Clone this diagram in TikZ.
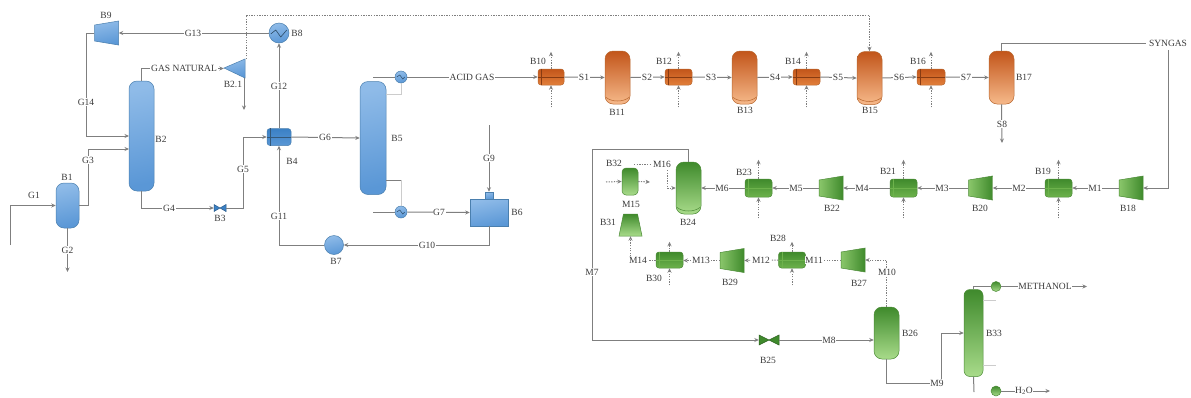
\documentclass[tikz,border=0pt]{standalone}
\usepackage{fontspec}
\setmainfont{Liberation Serif}
\usetikzlibrary{arrows.meta,calc}
\definecolor{linegray}{HTML}{7F7F7F}
\definecolor{txt}{HTML}{3A3A3A}
\definecolor{blue1}{HTML}{8FBBE8}\definecolor{blue2}{HTML}{3A80C4}\definecolor{blue3}{HTML}{5A97D6}\definecolor{blue4}{HTML}{4A7FAE}
\definecolor{or1}{HTML}{C2551A}\definecolor{or2}{HTML}{E27F3A}\definecolor{or3}{HTML}{F6B98A}\definecolor{or4}{HTML}{B8662E}
\definecolor{gr1}{HTML}{3F8A2C}\definecolor{gr2}{HTML}{6DB24C}\definecolor{gr3}{HTML}{A8DB8A}\definecolor{gr4}{HTML}{4B8A36}
\tikzset{
  flow/.style={draw=linegray,line width=1pt,-{Stealth[length=4.5pt,width=4pt]}},
  plain/.style={draw=linegray,line width=1pt},
  faint/.style={draw=linegray!40,line width=0.7pt},
  dots/.style={draw=linegray,line width=1pt,dash pattern=on 1.3pt off 1.3pt,-{Stealth[length=4.5pt,width=4pt]}},
  dotsplain/.style={draw=linegray,line width=1pt,dash pattern=on 1.3pt off 1.3pt},
  lab/.style={font=\fontsize{9.5}{10}\selectfont,text=txt,fill=white,inner sep=0.7pt},
  tag/.style={font=\fontsize{9.5}{10}\selectfont,text=txt,inner sep=0pt},
  blueg/.style={top color=blue1,middle color=blue2,bottom color=blue3,shading angle=12,draw=blue4,line width=0.5pt},
  orangeg/.style={top color=or1,middle color=or2,bottom color=or3,draw=or4,line width=0.5pt},
  greeng/.style={top color=gr1,middle color=gr2,bottom color=gr3,draw=gr4,line width=0.5pt},
  bluehx/.style={top color=blue2,middle color=blue1,bottom color=blue3,draw=blue4,line width=0.5pt},
  orangehx/.style={top color=or1,middle color=or3,bottom color=or2,draw=or4,line width=0.5pt},
  greenhx/.style={top color=gr1,middle color=gr3,bottom color=gr2,draw=gr4,line width=0.5pt},
  greencp/.style={left color=gr3!50!gr2,right color=gr1,draw=gr4,line width=0.5pt},
  vessel/.style={rectangle,rounded corners=8pt,inner sep=0pt},
  hxbox/.style={rectangle,rounded corners=3pt,inner sep=0pt},
  disc/.style={circle,inner sep=0pt},
  ghost/.style={inner sep=0pt,rectangle},
}
% compressor, wide side right: name, cx, cy, colour style
\newcommand{\compr}[4]{%
  \path[#4] (#2-12,#3-8) -- (#2+12,#3-12) -- (#2+12,#3+12) -- (#2-12,#3+8) -- cycle;
  \node[ghost,minimum width=24pt,minimum height=20pt] (#1) at (#2,#3) {};}
% heat exchanger: name, cx, cy, w, h, colour style, line colour
\newcommand{\hxer}[7]{%
  \node[hxbox,#6,minimum width=#4pt,minimum height=#5pt] (#1) at (#2,#3) {};
  \draw[#7,line width=0.6pt] (#1.west) -- (#1.east);
  \draw[#7,line width=0.6pt] ($(#1.north west)+(4,0)$) -- ($(#1.south west)+(4,0)$);}
% valve: name, cx, cy, half w, half h, fill
\newcommand{\valv}[6]{%
  \path[fill=#6,draw=#6!70!black,line width=0.5pt] (#2-#4,#3-#5) -- (#2+#4,#3+#5) -- (#2+#4,#3-#5) -- (#2-#4,#3+#5) -- cycle;
  \node[ghost,minimum width=#4*2pt,minimum height=#5*2pt] (#1) at (#2,#3) {};}
% lower head seam of a vessel: name, colour
\newcommand{\seam}[2]{%
  \draw[#2,line width=0.5pt] ($(#1.south west)+(1,-7)$) .. controls ($(#1.south west)+(7,-2)$) and ($(#1.south east)+(-7,-2)$) .. ($(#1.south east)+(-1,-7)$);}
\begin{document}
\begin{tikzpicture}[x=1pt,y=-1pt]
\useasboundingbox (0,0) rectangle (1191,397);
% --- blue section equipment
\node[vessel,blueg,minimum width=23pt,minimum height=45pt] (b1) at (67.5,205.5) {};
\node[vessel,blueg,minimum width=25pt,minimum height=110pt] (b2) at (141.5,136) {};
\valv{b3}{220}{208}{6}{3.5}{blue2}
\hxer{b4}{279}{137}{24}{17}{bluehx}{blue4!70!black}
\node[vessel,blueg,minimum width=26pt,minimum height=113pt] (b5) at (373,138) {};
\node[disc,blueg,minimum size=12pt] (c5a) at (401,77) {};
\node[disc,blueg,minimum size=12pt] (c5b) at (401,212) {};
\node[ghost,blueg,minimum width=38pt,minimum height=27pt] (b6) at (489,212.5) {};
\node[ghost,blueg,minimum width=8pt,minimum height=7pt] (b6n) at (489,195.5) {};
\node[disc,blueg,minimum size=19pt] (b7) at (334,245) {};
\node[disc,blueg,minimum size=20pt] (b8) at (279,33) {};
\draw[blue4!60!black,line width=0.6pt] ($(b8.west)+(2,1)$) -- ++(5,-4) -- ++(5,7) -- ++(6,-7);
\draw[blue4!60!black,line width=0.5pt] ($(c5a.west)+(2,0)$) -- ++(3,-2) -- ++(3,4) -- ++(2,-2);
\draw[blue4!60!black,line width=0.5pt] ($(c5b.west)+(2,0)$) -- ++(3,-2) -- ++(3,4) -- ++(2,-2);
\compr{b9}{106.5}{33}{blueg}
\path[blueg] (224,68) -- (245,59) -- (245,78) -- cycle;
\node[ghost,minimum width=21pt,minimum height=19pt] (b21x) at (234.5,68.5) {};
% --- orange section equipment
\hxer{b10}{551}{77}{26}{16}{orangehx}{or1!70!black}
\node[vessel,orangeg,minimum width=25pt,minimum height=53pt] (b11) at (617.5,77.5) {};
\seam{b11}{or4}
\hxer{b12}{678.5}{77}{27}{16}{orangehx}{or1!70!black}
\node[vessel,orangeg,minimum width=25pt,minimum height=53pt] (b13) at (744.5,77.5) {};
\seam{b13}{or4}
\hxer{b14}{806.5}{77}{27}{16}{orangehx}{or1!70!black}
\node[vessel,orangeg,minimum width=25pt,minimum height=53pt] (b15) at (869.5,78) {};
\seam{b15}{or4}
\hxer{b16}{931}{77}{28}{16}{orangehx}{or1!70!black}
\node[vessel,orangeg,minimum width=25pt,minimum height=53pt] (b17) at (1001.5,77.5) {};
% --- green section equipment
\compr{b18}{1131}{188}{greencp}
\hxer{b19}{1058.5}{188}{27}{18}{greenhx}{gr2}
\compr{b20}{980.5}{188}{greencp}
\hxer{b21}{903.5}{188}{27}{18}{greenhx}{gr2}
\compr{b22}{831}{188}{greencp}
\hxer{b23}{758.5}{188}{27}{18}{greenhx}{gr2}
\node[vessel,greeng,minimum width=25pt,minimum height=52pt] (b24) at (688.5,188) {};
\seam{b24}{gr4}
\valv{b25}{769}{340}{10}{5}{gr1}
\node[vessel,greeng,minimum width=25pt,minimum height=52pt] (b26) at (886.5,333) {};
\compr{b27}{853}{260}{greencp}
\hxer{b28}{792}{260}{27}{16}{greenhx}{gr2}
\compr{b29}{732}{260.5}{greencp}
\hxer{b30}{669.5}{260}{27}{16}{greenhx}{gr2}
\path[greeng] (623.5,214) -- (637.5,214) -- (642,236) -- (619,236) -- cycle;
\node[ghost,minimum width=23pt,minimum height=22pt] (b31) at (630.5,225) {};
\node[vessel,greeng,minimum width=16pt,minimum height=27pt,rounded corners=4pt] (b32) at (630,181.5) {};
\node[vessel,greeng,minimum width=19pt,minimum height=87pt,rounded corners=6pt] (b33) at (973.5,333) {};
\node[disc,greeng,minimum size=10pt] (c33a) at (996,286.5) {};
\node[disc,greeng,minimum size=10pt] (c33b) at (996,391) {};
% --- free ends
\coordinate (g1s) at (10,245);
\coordinate (g2e) at (67.5,272);
\coordinate (b21d) at (244,110);
\coordinate (g9s) at (489,125);
\coordinate (s8e) at (1002,143);
\coordinate (c5aS) at (373,77);
\coordinate (c5bS) at (373,212);
\coordinate (meth) at (1087,286.5);
\coordinate (water) at (1050,391);
\coordinate (d32i) at (606,182);
\coordinate (d32o) at (650,182);
% --- blue connectors
\draw[flow] (g1s) |- (b1.west);
\draw[flow] (b1.south) -- (g2e);
\draw[flow] (b1.east) -- (88,205.5) |- (129,149);
\draw[flow] (b2.south) |- (b3.west);
\draw[flow] (b3.east) -- (243,208) |- (b4.west);
\draw[flow] (b9.west) -- (86,33) |- (129,136);
\draw[flow] (b8.west) -- (b9.east);
\draw[flow] (b4.north) -- (b8.south);
\draw[flow] (b7.west) -| (b4.south);
\draw[flow] (b6.south) |- (b7.east);
\draw[flow] (g9s) -- (b6n.north);
\draw[flow] (c5b.east) -- (b6.west);
\draw[flow] (b4.east) -- (b5.west);
\draw[flow] (b2.north) |- (b21x.west);
\draw[flow] (244,78) -- (b21d);
\draw[dots] (246,59) -- (246,15) -| (b15.north);
\draw[plain] (c5aS) -- (c5a.west);
\draw[plain] (c5bS) -- (c5b.west);
\draw[faint] (386,94) -| (c5a.south);
\draw[plain] (386,180) -- (401,180);
\draw[faint] (401,180) -- (c5b.north);
\draw[flow] (c5a.east) -- (b10.west);
% --- orange connectors
\draw[flow] (b10.east) -- (b11.west);
\draw[flow] (b11.east) -- (b12.west);
\draw[flow] (b12.east) -- (b13.west);
\draw[flow] (b13.east) -- (b14.west);
\draw[flow] (b14.east) -- (b15.west);
\draw[flow] (b15.east) -- (b16.west);
\draw[flow] (b16.east) -- (b17.west);
\draw[flow] (b17.south) -- (s8e);
\foreach \n in {b10,b12,b14,b16}{
  \draw[dots] (\n.south) ++(0,22) -- (\n.south);
  \draw[dots] (\n.north) -- ++(0,-17);
}
% --- green connectors
\draw[plain] (b17.north) |- (1146,43);
\draw[flow] (1168,50) |- (b18.east);
\draw[flow] (b18.west) -- (b19.east);
\draw[flow] (b19.west) -- (b20.east);
\draw[flow] (b20.west) -- (b21.east);
\draw[flow] (b21.west) -- (b22.east);
\draw[flow] (b22.west) -- (b23.east);
\draw[flow] (b23.west) -- (b24.east);
\foreach \n in {b19,b21,b23}{
  \draw[dots] (\n.south) ++(0,21) -- (\n.south);
  \draw[dots] (\n.north) -- ++(0,-19);
}
\foreach \n in {b28,b30}{
  \draw[dots] (\n.south) ++(0,17) -- (\n.south);
  \draw[dots] (\n.north) -- ++(0,-10);
}
\draw[flow] (b24.north) -- (688.5,149) -- (592,149) |- (b25.west);
\draw[flow] (b25.east) -- (b26.west |- b25.east);
\draw[flow] (b26.south) |- (941,383) -- (941,333) -- (b33.west);
\draw[dots] (b26.north) -- (886.5,260) -- (b27.east);
\draw[dots] (b27.west) -- (b28.east);
\draw[dots] (b28.west) -- (b29.east);
\draw[dots] (b29.west) -- (b30.east |- b29.west);
\draw[dots] (b30.west) -| (b31.south);
\draw[dotsplain] (634,164) -- (653,164);
\draw[dots] (667,170) |- (b24.west);
\draw[dots] (d32i) -- (b32.west);
\draw[dots] (b32.east) -- (d32o);
\draw[plain] (b33.north) |- (c33a.west);
\draw[plain] (b33.south) -- (974,392);
\draw[flow] (c33a.east) -- (meth);
\draw[flow] (c33b.east) -- (water);
\draw[faint] (983,300) -- (996,300);
\draw[faint] (983,365) -- (996,365);
% --- stream labels
\node[tag] (lg1) at (34,195) {G1};
\node[lab] (lg2) at (67.5,250) {G2};
\node[lab] (lg3) at (88,160) {G3};
\node[lab] (lg4) at (169,208) {G4};
\node[lab] (lg5) at (243,169) {G5};
\node[lab] (lg6) at (325,137) {G6};
\node[lab] (lg7) at (439,212) {G7};
\node[lab] (lg9) at (489,158) {G9};
\node[lab] (lg10) at (427,245) {G10};
\node[lab] (lg11) at (279,216) {G11};
\node[lab] (lg12) at (279,86) {G12};
\node[lab] (lg13) at (193,33) {G13};
\node[lab] (lg14) at (86,102) {G14};
\node[lab] (lgn) at (184,68) {GAS NATURAL};
\node[lab] (lag) at (472,77) {ACID GAS};
\node[lab] (ls1) at (584,77) {S1};
\node[lab] (ls2) at (647,77) {S2};
\node[lab] (ls3) at (711,77) {S3};
\node[lab] (ls4) at (775,77) {S4};
\node[lab] (ls5) at (838,77) {S5};
\node[lab] (ls6) at (899,77) {S6};
\node[lab] (ls7) at (966,77) {S7};
\node[lab] (ls8) at (1002,124) {S8};
\node[lab] (lsy) at (1168,43) {SYNGAS};
\node[lab] (lm1) at (1095,188) {M1};
\node[lab] (lm2) at (1019,188) {M2};
\node[lab] (lm3) at (942,188) {M3};
\node[lab] (lm4) at (862,188) {M4};
\node[lab] (lm5) at (796,188) {M5};
\node[lab] (lm6) at (722,188) {M6};
\node[lab] (lm7) at (592,272) {M7};
\node[lab] (lm8) at (829,340) {M8};
\node[lab] (lm9) at (937,383) {M9};
\node[lab] (lm10) at (887,272) {M10};
\node[lab] (lm11) at (814,260) {M11};
\node[lab] (lm12) at (761,260) {M12};
\node[lab] (lm13) at (701,260) {M13};
\node[lab] (lm14) at (638,260) {M14};
\node[tag] (lm15) at (631,204) {M15};
\node[lab] (lm16) at (662,164) {M16};
\node[lab] (lme) at (1045,286.5) {METHANOL};
\node[lab] (lw) at (1024,391) {H\textsubscript{2}O};
% --- block labels
\foreach \t/\x/\y in {B1/67/177,B2/161/139,B3/220/218,B4/292/161,B5/397/138,B6/517/212,B7/336/261,B8/297/33,B9/106/15,B2.1/233/84,
  B10/538/61,B11/617/112,B12/664/61,B13/745/110,B14/793/61,B15/870/110,B16/918/61,B17/1024/77,
  B18/1128/208,B19/1043/171,B20/980/208,B21/888/171,B22/832/208,B23/744/172,B24/688/222,B25/768/360,
  B26/910/333,B27/859/283,B28/778/238,B29/730/282,B30/654/278,B31/608/222,B32/614/163,B33/994/333}{
  \node[tag] (t\t) at (\x,\y) {\t};
}
\end{tikzpicture}
\end{document}
